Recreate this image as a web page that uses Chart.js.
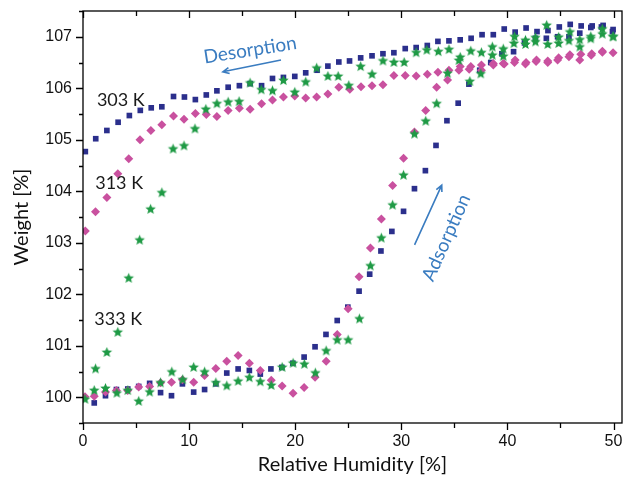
<!DOCTYPE html>
<html>
<head>
<meta charset="utf-8">
<script src="https://cdn.jsdelivr.net/npm/chart.js@4.4.1/dist/chart.umd.min.js"></script>
<style>
  html, body { margin: 0; padding: 0; background: #fff; }
  #wrap { width: 627px; height: 479px; }
</style>
</head>
<body>
<div id="wrap"><canvas id="chart" width="627" height="479"></canvas></div>
<script>
// Tick values
const xTicks = [0, 10, 20, 30, 40, 50];
const yTicks = [100, 101, 102, 103, 104, 105, 106, 107];

// 303 K (squares) - [RH %, weight %]
const ads303 = [
    [1.06, 99.89], [2.12, 100.03], [3.15, 100.15], [4.22, 100.16], [5.25, 100.21], [6.28, 100.27],
    [7.31, 100.09], [8.34, 100.03], [9.37, 100.26], [10.43, 100.10], [11.46, 100.15], [12.52, 100.26],
    [13.55, 100.47], [14.62, 100.55], [15.68, 100.52], [16.71, 100.45], [17.71, 100.55], [18.74, 100.58],
    [19.78, 100.66], [20.84, 100.78], [21.87, 100.98], [22.9, 101.22], [23.96, 101.49], [24.96, 101.75],
    [26.02, 102.06], [27.02, 102.39], [28.08, 102.84], [29.11, 103.22], [30.21, 103.61], [31.24, 104.05],
    [32.27, 104.40], [33.27, 104.89], [34.30, 105.37], [35.36, 105.71], [36.37, 106.08], [37.39, 106.35],
    [38.43, 106.50], [39.48, 106.67], [40.58, 106.71], [41.61, 106.88], [42.64, 106.97], [43.67, 106.97],
    [44.73, 107.00], [45.8, 107.00], [46.82, 107.07], [47.86, 107.18], [48.86, 107.19], [49.9, 107.10],
];
const des303 = [
    [0.22, 104.77], [1.2, 105.02], [2.25, 105.18], [3.31, 105.34], [4.37, 105.47], [5.40, 105.57],
    [6.43, 105.62], [7.43, 105.64], [8.53, 105.84], [9.56, 105.83], [10.59, 105.78], [11.62, 105.87],
    [12.62, 105.95], [13.68, 106.02], [14.74, 106.05], [15.75, 106.09], [16.83, 106.05], [17.86, 106.19],
    [18.89, 106.21], [19.96, 106.23], [20.99, 106.30], [22.06, 106.35], [23.08, 106.43], [24.11, 106.51],
    [25.12, 106.53], [26.17, 106.59], [27.24, 106.63], [28.27, 106.67], [29.30, 106.69], [30.37, 106.77],
    [31.40, 106.79], [32.45, 106.83], [33.45, 106.91], [34.49, 106.92], [35.55, 106.94], [36.58, 106.97],
    [37.61, 107.04], [38.67, 107.04], [39.70, 107.15], [40.73, 107.09], [41.76, 107.17], [42.79, 107.10],
    [43.82, 107.12], [44.89, 107.19], [45.92, 107.24], [46.95, 107.21], [47.99, 107.21], [49.02, 107.22],
    [49.96, 107.14],
];

// 313 K (diamonds)
const ads313 = [
    [0.19, 100.01], [1.06, 100.02], [2.12, 100.10], [3.15, 100.13], [4.22, 100.13], [5.25, 100.20],
    [6.28, 100.21], [7.31, 100.28], [8.34, 100.29], [9.37, 100.34], [10.43, 100.29], [11.46, 100.42],
    [12.52, 100.56], [13.55, 100.70], [14.62, 100.81], [15.68, 100.66], [16.71, 100.52], [17.74, 100.33],
    [18.77, 100.22], [19.8, 100.08], [20.84, 100.19], [21.87, 100.39], [22.92, 100.70], [23.96, 101.22],
    [24.99, 101.72], [26.02, 102.34], [27.09, 102.90], [28.12, 103.46], [29.18, 104.11], [30.21, 104.64],
    [31.24, 105.15], [32.3, 105.57], [33.33, 106.02], [34.36, 106.16], [35.43, 106.35], [36.4, 106.37],
    [37.55, 106.35], [38.67, 106.45], [39.61, 106.48], [40.67, 106.50], [41.7, 106.47], [42.7, 106.52],
    [43.8, 106.50], [44.73, 106.55], [45.8, 106.61], [46.82, 106.55], [47.9, 106.64], [48.95, 106.70],
];
const des313 = [
    [0.22, 103.23], [1.18, 103.60], [2.25, 103.88], [3.28, 104.34], [4.31, 104.63], [5.37, 105.00],
    [6.40, 105.18], [7.43, 105.29], [8.53, 105.46], [9.52, 105.40], [10.59, 105.51], [11.62, 105.49],
    [12.62, 105.45], [13.68, 105.57], [14.74, 105.61], [15.75, 105.59], [16.83, 105.70], [17.86, 105.77],
    [18.89, 105.83], [19.96, 105.85], [20.99, 105.81], [22.02, 105.83], [23.08, 105.89], [24.11, 106.02],
    [25.15, 105.98], [26.2, 106.03], [27.24, 106.05], [28.27, 106.07], [29.30, 106.25], [30.37, 106.25],
    [31.40, 106.24], [32.45, 106.27], [33.45, 106.31], [34.49, 106.35], [35.55, 106.42], [36.55, 106.42],
    [37.55, 106.45], [38.67, 106.48], [39.70, 106.47], [40.73, 106.55], [41.76, 106.50], [42.74, 106.55],
    [43.80, 106.53], [44.83, 106.59], [45.89, 106.65], [46.92, 106.66], [47.95, 106.67], [48.95, 106.72],
    [49.96, 106.69],
];

// 333 K (stars)
const ads333 = [
    [0.19, 99.96], [1.06, 100.13], [2.12, 100.17], [3.19, 100.08], [4.22, 100.13], [5.25, 99.92],
    [6.28, 100.10], [7.31, 100.28], [8.37, 100.49], [9.4, 100.34], [10.43, 100.58], [11.46, 100.49],
    [12.52, 100.28], [13.55, 100.22], [14.62, 100.31], [15.68, 100.38], [16.71, 100.30], [17.74, 100.23],
    [18.77, 100.58], [19.8, 100.66], [20.86, 100.64], [21.9, 100.47], [22.92, 100.90], [23.96, 101.11],
    [24.99, 101.11], [26.05, 101.52], [27.09, 102.55], [28.12, 103.09], [29.18, 103.73], [30.21, 104.31],
    [31.24, 105.11], [32.3, 105.36], [33.33, 105.70], [34.36, 106.29], [35.43, 106.54], [36.46, 106.13],
    [37.49, 106.28], [38.58, 106.64], [39.61, 106.62], [40.61, 106.87], [41.7, 106.85], [42.64, 106.90],
    [43.8, 106.85], [44.83, 106.87], [45.8, 106.92], [46.82, 106.80], [47.86, 106.96], [48.95, 107.05],
    [49.96, 107.00],
];
const des333 = [
    [1.18, 100.55], [2.25, 100.87], [3.28, 101.26], [4.31, 102.31], [5.34, 103.05], [6.37, 103.65],
    [7.43, 103.97], [8.49, 104.82], [9.52, 104.88], [10.55, 105.21], [11.58, 105.59], [12.62, 105.70],
    [13.68, 105.73], [14.71, 105.74], [15.75, 106.10], [16.8, 105.97], [17.86, 105.95], [18.89, 106.15],
    [19.96, 105.92], [20.99, 106.12], [22.02, 106.39], [23.08, 106.23], [24.05, 106.23], [25.05, 106.05],
    [26.17, 106.42], [27.24, 106.27], [28.27, 106.53], [29.30, 106.50], [30.27, 106.50], [31.40, 106.69],
    [32.4, 106.74], [33.49, 106.71], [34.49, 106.75], [35.55, 106.60], [36.55, 106.72], [37.55, 106.69],
    [38.58, 106.80], [39.61, 106.76], [40.67, 107.00], [41.7, 106.93], [42.64, 106.98], [43.70, 107.22],
    [44.83, 106.99], [45.89, 107.09], [46.82, 106.94], [47.86, 107.00], [48.95, 107.15], [49.96, 107.00],
];

// Annotations (data coordinates)
const tempLabels = [
    { text: '303 K', x: 1.31, y: 105.66 },
    { text: '313 K', x: 1.15, y: 104.05 },
    { text: '333 K', x: 1.06, y: 101.40 },
];

const COLORS = {
    k303: '#2b2f8c',
    k313: '#c9519f',
    k333: '#1f9a45',
    note: '#3a7cc0',
    text: '#1a1a1a',
};

const toXY = arr => arr.map(p => ({ x: p[0], y: p[1] }));

// 5각 별 포인트 이미지
function makeStar(color, r) {
    const s = Math.ceil(r * 2) + 2;
    const c = document.createElement('canvas');
    c.width = s;
    c.height = s;
    const g = c.getContext('2d');
    g.beginPath();
    for (let i = 0; i < 10; i++) {
        const rad = i % 2 ? r * 0.45 : r;
        const a = -Math.PI / 2 + i * Math.PI / 5;
        g.lineTo(s / 2 + rad * Math.cos(a), s / 2 + rad * Math.sin(a));
    }
    g.closePath();
    g.fillStyle = color;
    g.fill();
    return c;
}
const starImg = makeStar(COLORS.k333, 5.5);

function series(data, color, style, radius) {
    return {
        data: toXY(data),
        pointStyle: style,
        pointRadius: radius,
        backgroundColor: color,
        borderColor: color,
        borderWidth: 0,
        showLine: false,
    };
}

// 축 라벨 여백 자동 추가 막기
function noPad(s) {
    s.paddingLeft = 0;
    s.paddingRight = 0;
    s.paddingTop = 0;
    s.paddingBottom = 0;
}

// frame, ticks, annotations
const decorPlugin = {
    id: 'decor',
    afterDraw(chart) {
        const { ctx, chartArea: a, scales: { x, y } } = chart;
        ctx.save();
        ctx.strokeStyle = '#000';
        ctx.lineWidth = 1.3;
        ctx.strokeRect(a.left, a.top, a.right - a.left, a.bottom - a.top);
        ctx.beginPath();
        for (let v = 0; v <= 50; v += 5) {
            const px = Math.round(x.getPixelForValue(v)) + 0.5;
            const len = v % 10 === 0 ? 7 : 5;
            ctx.moveTo(px, a.bottom);
            ctx.lineTo(px, a.bottom + len);
            ctx.moveTo(px, a.top);
            ctx.lineTo(px, a.top + len);
        }
        for (let v = 99.5; v <= 107.5; v += 0.5) {
            const py = Math.round(y.getPixelForValue(v)) + 0.5;
            const len = Number.isInteger(v) ? 7 : 4;
            ctx.moveTo(a.left, py);
            ctx.lineTo(a.left - len, py);
        }
        ctx.stroke();

        // temperature labels
        ctx.fillStyle = COLORS.text;
        ctx.font = '18px Lato';
        ctx.textAlign = 'left';
        ctx.textBaseline = 'alphabetic';
        tempLabels.forEach(l => {
            ctx.fillText(l.text, x.getPixelForValue(l.x), y.getPixelForValue(l.y));
        });

        // rotated notes
        const note = (text, vx, vy, deg) => {
            ctx.save();
            ctx.translate(x.getPixelForValue(vx), y.getPixelForValue(vy));
            ctx.rotate(deg * Math.PI / 180);
            ctx.fillStyle = COLORS.note;
            ctx.font = '19px Lato';
            ctx.textAlign = 'center';
            ctx.textBaseline = 'middle';
            ctx.fillText(text, 0, 0);
            ctx.restore();
        };
        note('Desorption', 15.75, 106.74, -9);
        note('Adsorption', 34.25, 103.10, -66);

        const arrow = (x1, y1, x2, y2) => {
            const p1 = [x.getPixelForValue(x1), y.getPixelForValue(y1)];
            const p2 = [x.getPixelForValue(x2), y.getPixelForValue(y2)];
            const ang = Math.atan2(p2[1] - p1[1], p2[0] - p1[0]);
            ctx.strokeStyle = COLORS.note;
            ctx.lineWidth = 1.6;
            ctx.beginPath();
            ctx.moveTo(p1[0], p1[1]);
            ctx.lineTo(p2[0], p2[1]);
            ctx.moveTo(p2[0] - 7 * Math.cos(ang - 0.45), p2[1] - 7 * Math.sin(ang - 0.45));
            ctx.lineTo(p2[0], p2[1]);
            ctx.lineTo(p2[0] - 7 * Math.cos(ang + 0.45), p2[1] - 7 * Math.sin(ang + 0.45));
            ctx.stroke();
        };
        arrow(18.66, 106.55, 13.18, 106.32);
        arrow(31.25, 102.96, 33.81, 104.12);
        ctx.restore();
    },
};

const tickFont = { family: '"Liberation Sans", Arial', size: 16 };
const titleFont = { family: 'Lato', size: 20 };

new Chart(document.getElementById('chart').getContext('2d'), {
    type: 'scatter',
    data: {
        datasets: [
            series(ads333, COLORS.k333, starImg, 5),
            series(des333, COLORS.k333, starImg, 5),
            series(ads313, COLORS.k313, 'rectRot', 4.5),
            series(des313, COLORS.k313, 'rectRot', 4.5),
            series(ads303, COLORS.k303, 'rect', 4),
            series(des303, COLORS.k303, 'rect', 4),
        ],
    },
    options: {
        responsive: false,
        animation: false,
        layout: { padding: { top: 11, right: 2, left: 0, bottom: 0 } },
        plugins: {
            legend: { display: false },
            tooltip: { enabled: false },
        },
        scales: {
            x: {
                type: 'linear',
                min: 0,
                max: 50.8,
                afterBuildTicks: s => { s.ticks = xTicks.map(v => ({ value: v })); },
                afterFit: s => { s.height = 56; noPad(s); },
                grid: { display: false, drawTicks: false },
                border: { display: false },
                ticks: { font: tickFont, color: '#111', padding: 9, maxRotation: 0 },
                title: { display: true, text: 'Relative Humidity [%]', font: titleFont, color: '#111', padding: { top: 0, bottom: 2 } },
            },
            y: {
                type: 'linear',
                min: 99.5,
                max: 107.5,
                afterBuildTicks: s => { s.ticks = yTicks.map(v => ({ value: v })); },
                afterFit: s => { s.width = 83; noPad(s); },
                grid: { display: false, drawTicks: false },
                border: { display: false },
                ticks: { font: tickFont, color: '#111', padding: 11 },
                title: { display: true, text: 'Weight [%]', font: titleFont, color: '#111', padding: { top: 10, bottom: 0 } },
            },
        },
    },
    plugins: [decorPlugin],
});
</script>
</body>
</html>
